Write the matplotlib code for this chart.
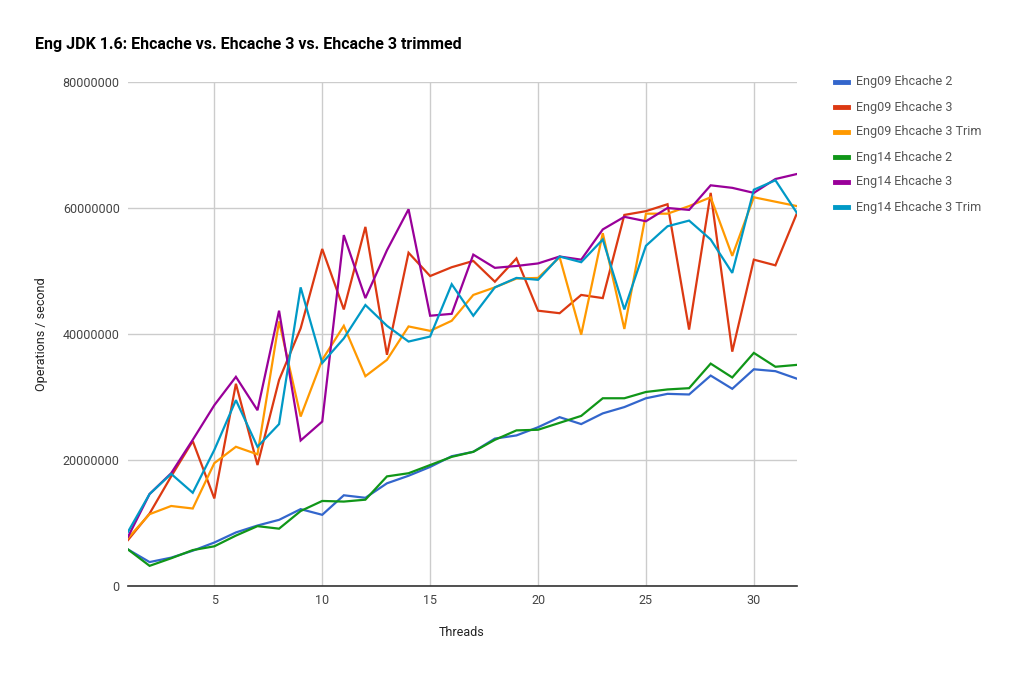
import matplotlib
matplotlib.use("Agg")
import matplotlib.pyplot as plt
from matplotlib.lines import Line2D
from matplotlib.ticker import FixedLocator

plt.rcParams['font.family'] = ['Roboto', 'DejaVu Sans']

threads = list(range(1, 33))

eng09_ehcache2 = [5.8, 3.8, 4.5, 5.6, 6.9, 8.5, 9.6, 10.5, 12.2, 11.3, 14.4, 14.0, 16.3, 17.5, 18.9, 20.6,
                  21.3, 23.4, 23.9, 25.2, 26.8, 25.7, 27.4, 28.4, 29.8, 30.5, 30.4, 33.4, 31.3, 34.4, 34.1, 32.9]
eng09_ehcache3 = [7.3, 11.5, 17.4, 23.0, 13.9, 32.1, 19.2, 32.7, 40.9, 53.5, 43.9, 57.0, 36.7, 52.9, 49.2, 50.6,
                  51.6, 48.3, 52.0, 43.7, 43.3, 46.2, 45.7, 58.9, 59.5, 60.6, 40.7, 62.4, 37.2, 51.8, 50.9, 59.2]
eng09_trim = [7.6, 11.4, 12.7, 12.3, 19.5, 22.1, 20.9, 42.0, 26.9, 35.9, 41.3, 33.3, 35.9, 41.2, 40.5, 42.1,
              46.2, 47.4, 48.8, 48.9, 52.2, 39.9, 56.0, 40.8, 59.1, 59.1, 60.3, 61.7, 52.4, 61.7, 61.0, 60.3]
eng14_ehcache2 = [5.8, 3.2, 4.4, 5.7, 6.3, 8.0, 9.5, 9.1, 11.9, 13.5, 13.4, 13.7, 17.4, 17.9, 19.2, 20.5,
                  21.3, 23.2, 24.7, 24.8, 25.9, 27.0, 29.8, 29.8, 30.8, 31.2, 31.4, 35.3, 33.1, 37.0, 34.8, 35.1]
eng14_ehcache3 = [7.8, 14.6, 17.9, 23.2, 28.7, 33.2, 27.9, 43.7, 23.1, 26.1, 55.7, 45.7, 53.3, 59.8, 42.9, 43.2,
                  52.6, 50.5, 50.8, 51.2, 52.3, 51.8, 56.6, 58.6, 57.9, 60.0, 59.7, 63.6, 63.2, 62.4, 64.6, 65.4]
eng14_trim = [8.6, 14.6, 17.8, 14.8, 21.6, 29.5, 22.1, 25.7, 47.4, 35.4, 39.3, 44.6, 41.3, 38.8, 39.6, 47.9,
              42.9, 47.4, 48.9, 48.6, 52.3, 51.4, 55.0, 43.9, 54.0, 57.1, 58.0, 55.0, 49.7, 62.9, 64.4, 59.2]

series_names = ["Eng09 Ehcache 2", "Eng09 Ehcache 3", "Eng09 Ehcache 3 Trim",
                "Eng14 Ehcache 2", "Eng14 Ehcache 3", "Eng14 Ehcache 3 Trim"]
series_values = [eng09_ehcache2, eng09_ehcache3, eng09_trim, eng14_ehcache2, eng14_ehcache3, eng14_trim]
colors = ["#3366cc", "#dc3912", "#ff9900", "#109618", "#990099", "#0099c6"]

y_ticks = [0, 20000000, 40000000, 60000000, 80000000]
x_ticks = [5, 10, 15, 20, 25, 30]

fig = plt.figure(figsize=(10.11, 6.74), dpi=100)
ax = fig.add_axes([128 / 1011, 1 - 586 / 674, (797 - 128) / 1011, (586 - 82) / 674])

for name, vals, c in zip(series_names, series_values, colors):
    ax.plot(threads, [v * 1e6 for v in vals], color=c, lw=1.6, label=name, solid_joinstyle='miter')

ax.set_xlim(1, 32)
ax.set_ylim(0, 80000000)
ax.yaxis.set_major_locator(FixedLocator(y_ticks))
ax.xaxis.set_major_locator(FixedLocator(x_ticks))
ax.set_yticklabels([str(v) for v in y_ticks])
ax.grid(True, color="#cccccc", lw=1)
ax.set_axisbelow(True)
for s in ["top", "right", "left"]:
    ax.spines[s].set_visible(False)
ax.spines["bottom"].set_color("#333333")
ax.spines["bottom"].set_linewidth(1.2)
ax.spines["bottom"].set_zorder(5)
ax.tick_params(length=0, colors="#444444", labelsize=9, pad=6)

fig.text(35 / 1011, 1 - 44 / 674, "Eng JDK 1.6: Ehcache vs. Ehcache 3 vs. Ehcache 3 trimmed",
         fontsize=11.5, fontweight="bold", color="#000000", ha="left", va="center")
fig.text(462 / 1011, 1 - 632 / 674, "Threads", fontsize=9, color="#222222", ha="center", va="center")
fig.text(42 / 1011, 1 - 334 / 674, "Operations / second", fontsize=9, color="#222222",
         ha="center", va="center", rotation=90)

for i, (name, c) in enumerate(zip(series_names, colors)):
    yy = 1 - (82 + 25 * i) / 674
    fig.add_artist(Line2D([835 / 1011, 848 / 1011], [yy, yy], color=c, lw=3.5, transform=fig.transFigure))
    fig.text(856 / 1011, yy, name, fontsize=9, color="#555555", ha="left", va="center")

fig.savefig("out.png", dpi=100)
